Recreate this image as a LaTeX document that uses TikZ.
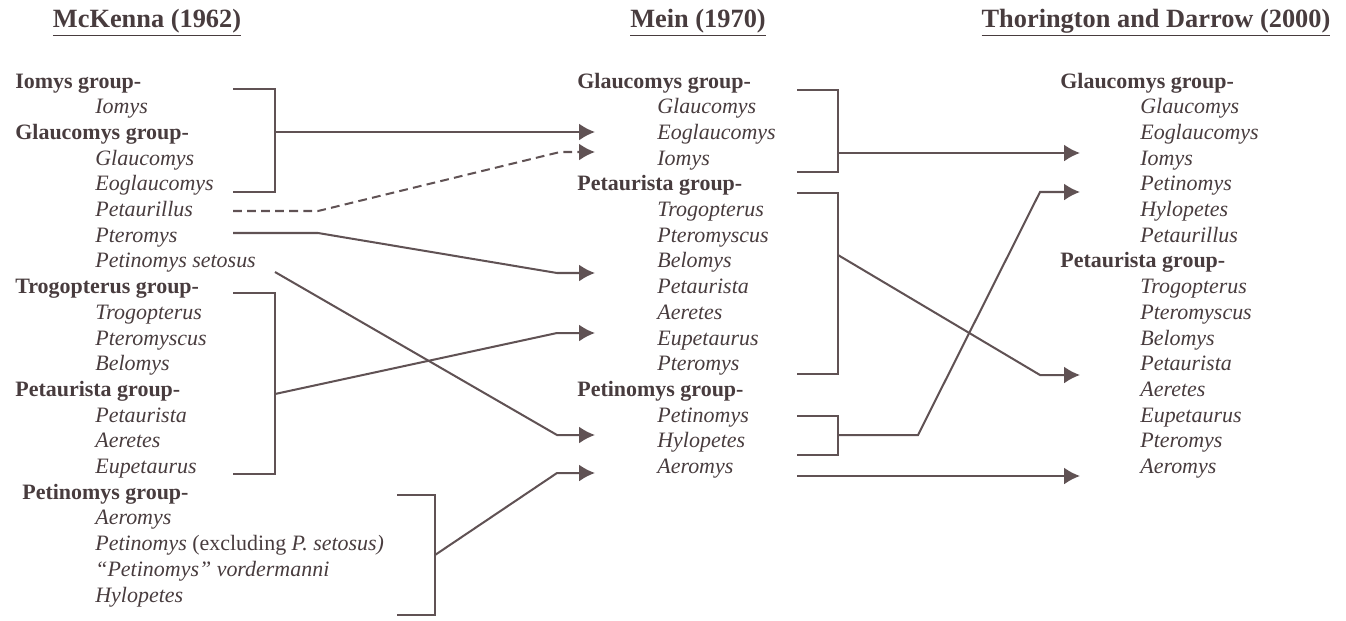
\documentclass[tikz,border=0pt]{standalone}
\usepackage{fontspec}
\setmainfont{Liberation Serif}
\usepackage{xcolor}
\usetikzlibrary{arrows.meta, positioning}
\definecolor{ink}{RGB}{72,60,62}
\definecolor{wire}{RGB}{96,82,84}

\begin{document}
\begin{tikzpicture}[x=0.02cm, y=-0.02cm, > = {Latex[length=0.32cm, width=0.34cm]},
		every node/.style={text=ink, inner sep=0pt, anchor=base west},
		grp/.style={font=\fontsize{12.5}{15}\selectfont\bfseries},
		taxon/.style={font=\fontsize{12.5}{15}\selectfont\itshape},
		title/.style={anchor=base, font=\fontsize{15}{18}\selectfont\bfseries},
		brk/.style={draw=wire, line width=1.5pt},
		link/.style={draw=wire, line width=1.15pt, ->}]
			\useasboundingbox (0,0) rectangle (1346,620);
			
			% titles
			\node [title] (tMc) at (147,27) {\underline{McKenna (1962)}};
			\node [title] (tMe) at (698,27) {\underline{Mein (1970)}};
			\node [title] (tTD) at (1156,27) {\underline{Thorington and Darrow (2000)}};
			
			% McKenna (1962)
			\node [grp]   (mcIomG) at (15,88)     {Iomys group-};
			\node [taxon] (mcIom)  at (95,113.7)  {Iomys};
			\node [grp]   (mcGlaG) at (15,139.4)  {Glaucomys group-};
			\node [taxon] (mcGla)  at (95,165.1)  {Glaucomys};
			\node [taxon] (mcEog)  at (95,190.8)  {Eoglaucomys};
			\node [taxon] (mcPtl)  at (95,216.5)  {Petaurillus};
			\node [taxon] (mcPtm)  at (95,242.2)  {Pteromys};
			\node [taxon] (mcSet)  at (95,267.9)  {Petinomys setosus};
			\node [grp]   (mcTroG) at (15,293.6)  {Trogopterus group-};
			\node [taxon] (mcTro)  at (95,319.3)  {Trogopterus};
			\node [taxon] (mcPsc)  at (95,345)    {Pteromyscus};
			\node [taxon] (mcBel)  at (95,370.7)  {Belomys};
			\node [grp]   (mcPtaG) at (15,396.4)  {Petaurista group-};
			\node [taxon] (mcPta)  at (95,422.1)  {Petaurista};
			\node [taxon] (mcAer)  at (95,447.8)  {Aeretes};
			\node [taxon] (mcEup)  at (95,473.5)  {Eupetaurus};
			\node [grp]   (mcPetG) at (22,499.2)  {Petinomys group-};
			\node [taxon] (mcAro)  at (95,524.9)  {Aeromys};
			\node [taxon] (mcPet)  at (95,550.6)  {Petinomys \upshape(excluding \itshape P. setosus)};
			\node [taxon] (mcVor)  at (95,576.3)  {``Petinomys'' vordermanni};
			\node [taxon] (mcHyl)  at (95,602)    {Hylopetes};
			
			% Mein (1970)
			\node [grp]   (meGlaG) at (577,88)    {Glaucomys group-};
			\node [taxon] (meGla)  at (657,113.7) {Glaucomys};
			\node [taxon] (meEog)  at (657,139.4) {Eoglaucomys};
			\node [taxon] (meIom)  at (657,165.1) {Iomys};
			\node [grp]   (mePtaG) at (577,190.8) {Petaurista group-};
			\node [taxon] (meTro)  at (657,216.5) {Trogopterus};
			\node [taxon] (mePsc)  at (657,242.2) {Pteromyscus};
			\node [taxon] (meBel)  at (657,267.9) {Belomys};
			\node [taxon] (mePta)  at (657,293.6) {Petaurista};
			\node [taxon] (meAer)  at (657,319.3) {Aeretes};
			\node [taxon] (meEup)  at (657,345)   {Eupetaurus};
			\node [taxon] (mePtm)  at (657,370.7) {Pteromys};
			\node [grp]   (mePetG) at (577,396.4) {Petinomys group-};
			\node [taxon] (mePet)  at (657,422.1) {Petinomys};
			\node [taxon] (meHyl)  at (657,447.8) {Hylopetes};
			\node [taxon] (meAro)  at (657,473.5) {Aeromys};
			
			% Thorington and Darrow (2000)
			\node [grp]   (tdGlaG) at (1060,88)    {Glaucomys group-};
			\node [taxon] (tdGla)  at (1140,113.7) {Glaucomys};
			\node [taxon] (tdEog)  at (1140,139.4) {Eoglaucomys};
			\node [taxon] (tdIom)  at (1140,165.1) {Iomys};
			\node [taxon] (tdPet)  at (1140,190.8) {Petinomys};
			\node [taxon] (tdHyl)  at (1140,216.5) {Hylopetes};
			\node [taxon] (tdPtl)  at (1140,242.2) {Petaurillus};
			\node [grp]   (tdPtaG) at (1060,267.9) {Petaurista group-};
			\node [taxon] (tdTro)  at (1140,293.6) {Trogopterus};
			\node [taxon] (tdPsc)  at (1140,319.3) {Pteromyscus};
			\node [taxon] (tdBel)  at (1140,345)   {Belomys};
			\node [taxon] (tdPta)  at (1140,370.7) {Petaurista};
			\node [taxon] (tdAer)  at (1140,396.4) {Aeretes};
			\node [taxon] (tdEup)  at (1140,422.1) {Eupetaurus};
			\node [taxon] (tdPtm)  at (1140,447.8) {Pteromys};
			\node [taxon] (tdAro)  at (1140,473.5) {Aeromys};
			
			% brackets
			\draw [brk] (233,89)  -| (275,192) coordinate (bMcGla) -- (233,192);
			\draw [brk] (233,293) -| (275,474) coordinate (bMcTro) -- (233,474);
			\draw [brk] (397,495) -| (435,615) coordinate (bMcPet) -- (397,615);
			\draw [brk] (797,90)  -| (838,172) coordinate (bMeGla) -- (797,172);
			\draw [brk] (797,193) -| (838,374) coordinate (bMePta) -- (797,374);
			\draw [brk] (797,416) -| (838,455) coordinate (bMePet) -- (797,455);
			
			% ends of the connectors
			\coordinate (sMcGla) at (275,132);
			\coordinate (sMcPtl) at (233,211);
			\coordinate (sMcPtm) at (233,233);
			\coordinate (sMcSet) at (275,272);
			\coordinate (sMcTro) at (275,394);
			\coordinate (sMcPet) at (435,555);
			\coordinate (sMeGla) at (838,153);
			\coordinate (sMePta) at (838,255);
			\coordinate (sMePet) at (838,435);
			\coordinate (sMeAro) at (797,476);
			
			\coordinate (aMeGla) at (595,132);
			\coordinate (aMeIom) at (595,152);
			\coordinate (aMeBel) at (595,273);
			\coordinate (aMeEup) at (595,333);
			\coordinate (aMeHyl) at (595,435);
			\coordinate (aMeAro) at (595,473);
			\coordinate (aTdIom) at (1080,153);
			\coordinate (aTdPet) at (1080,192);
			\coordinate (aTdPta) at (1080,375);
			\coordinate (aTdAro) at (1080,476);
			
			% McKenna -> Mein
			\draw [link] (sMcGla) -- (aMeGla);
			\draw [link, dash pattern=on 5pt off 3pt] (sMcPtl) -- ++(85,0) -- (560,152) -- (aMeIom);
			\draw [link] (sMcPtm) -- ++(85,0) -- (557,273) -- (aMeBel);
			\draw [link] (sMcSet) -- (557,435) -- (aMeHyl);
			\draw [link] (sMcTro) -- (557,333) -- (aMeEup);
			\draw [link] (sMcPet) -- (557,473) -- (aMeAro);
			
			% Mein -> Thorington and Darrow
			\draw [link] (sMeGla) -- (aTdIom);
			\draw [link] (sMePta) -- (1040,375) -- (aTdPta);
			\draw [link] (sMePet) -- ++(80,0) -- (1040,192) -- (aTdPet);
			\draw [link] (sMeAro) -- (aTdAro);
		\end{tikzpicture}
\end{document}
